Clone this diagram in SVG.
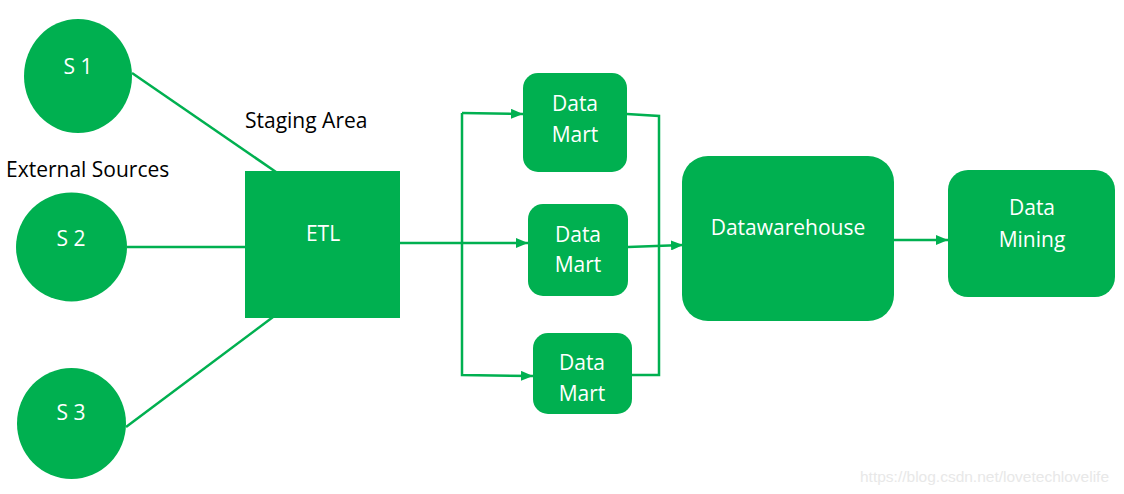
<svg xmlns="http://www.w3.org/2000/svg" width="1124" height="494" viewBox="0 0 1124 494">
<defs>
<marker id="arr" viewBox="0 0 12 10" refX="12" refY="5" markerWidth="12" markerHeight="10" markerUnits="userSpaceOnUse" orient="auto">
<path d="M0,0 L12,5 L0,10 z" fill="#00B050"/>
</marker>
<style>
.n{fill:#00B050}
.t{font-family:"Open Sans","Noto Sans",sans-serif;font-size:21px;fill:#ffffff;text-anchor:middle}
.l{font-family:"Open Sans","Noto Sans",sans-serif;font-size:21px;fill:#000000}
.c{stroke:#00B050;stroke-width:2.5;fill:none}
</style>
</defs>
<rect width="1124" height="494" fill="#ffffff"/>
<g id="connectors">
<line class="c" x1="132" y1="73" x2="276" y2="172"/>
<line class="c" x1="127" y1="247" x2="246" y2="247"/>
<line class="c" x1="126" y1="427" x2="273" y2="317"/>
<line class="c" x1="400" y1="243" x2="528" y2="243" marker-end="url(#arr)"/>
<polyline class="c" points="462,113 462,375 533,376" marker-end="url(#arr)"/>
<line class="c" x1="462" y1="113" x2="523" y2="114" marker-end="url(#arr)"/>
<polyline class="c" points="627,114 659,116 659,375 632,375"/>
<line class="c" x1="628" y1="247" x2="683" y2="245" marker-end="url(#arr)"/>
<line class="c" x1="894" y1="240" x2="948" y2="240" marker-end="url(#arr)"/>
</g>
<g id="s1"><ellipse class="n" cx="78" cy="76" rx="54" ry="57"/><text class="t" x="78" y="74">S 1</text></g>
<g id="s2"><ellipse class="n" cx="71.5" cy="247" rx="55.5" ry="54.5"/><text class="t" x="71" y="246">S 2</text></g>
<g id="s3"><ellipse class="n" cx="71.5" cy="423.5" rx="54.5" ry="55.5"/><text class="t" x="71" y="420">S 3</text></g>
<g id="external-label"><text class="l" x="6" y="177">External Sources</text></g>
<g id="staging-label"><text class="l" x="245" y="128">Staging Area</text></g>
<g id="etl"><rect class="n" x="245" y="171" width="155" height="147"/><text class="t" x="323" y="241">ETL</text></g>
<g id="dm1"><rect class="n" x="523" y="73" width="104" height="99" rx="15"/><text class="t" x="575" y="111">Data</text><text class="t" x="575" y="142">Mart</text></g>
<g id="dm2"><rect class="n" x="528" y="204" width="100" height="92" rx="15"/><text class="t" x="578" y="242">Data</text><text class="t" x="578" y="272">Mart</text></g>
<g id="dm3"><rect class="n" x="533" y="333" width="99" height="81" rx="15"/><text class="t" x="582" y="370">Data</text><text class="t" x="582" y="401">Mart</text></g>
<g id="dw"><rect class="n" x="682" y="156" width="212" height="165" rx="26"/><text class="t" x="788" y="235">Datawarehouse</text></g>
<g id="mining"><rect class="n" x="948" y="170" width="167" height="127" rx="20"/><text class="t" x="1032" y="215">Data</text><text class="t" x="1032" y="247">Mining</text></g>
<g id="watermark"><text x="860" y="482" style="font-family:'Liberation Sans',Arial,sans-serif;font-size:15.5px;fill:#e8e8e8">https://blog.csdn.net/lovetechlovelife</text></g>
</svg>
